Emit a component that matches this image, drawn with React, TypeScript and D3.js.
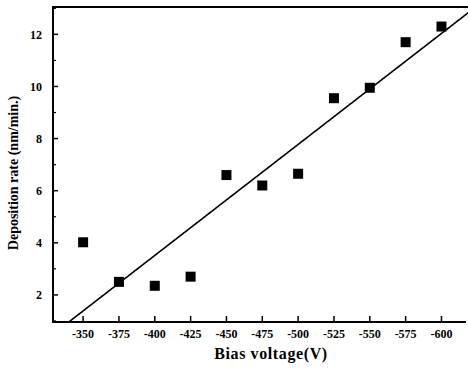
import React from "react";
import * as d3 from "d3";

// bias voltage (V) and measured deposition rate (nm/min.)
const biasVoltage = [-350, -375, -400, -425, -450, -475, -500, -525, -550, -575, -600];
const depositionRate = [4.02, 2.5, 2.35, 2.7, 6.6, 6.2, 6.65, 9.55, 9.95, 11.7, 12.3];

// linear fit: rate = fitIntercept + fitSlope * |V|
const fitIntercept = -13.525;
const fitSlope = 0.0426;

const xTicks = [-350, -375, -400, -425, -450, -475, -500, -525, -550, -575, -600];
const yMajor = [2, 4, 6, 8, 10, 12];
const yMinor = [1, 3, 5, 7, 9, 11, 13];

const width = 468;
const height = 370;
const font = "'Liberation Serif', 'DejaVu Serif', serif";

const App = () => {
  const left = 53;
  const top = 7;
  const bottom = 322;
  const right = 470;

  const x = d3.scaleLinear().domain([-329, -619.9]).range([left, right]);
  const y = d3.scaleLinear().domain([0.96, 13.05]).range([bottom, top]);

  const fitX = d3.range(-329, -621, -1);
  const fitLine = d3
    .line<number>()
    .x((v) => x(v))
    .y((v) => y(fitIntercept + fitSlope * Math.abs(v)));

  const size = 10;

  return (
    <svg
      width={width}
      height={height}
      style={{ position: "absolute", left: 0, top: 0, background: "#fff" }}
    >
      <defs>
        <clipPath id="plot">
          <rect x={left} y={top} width={right - left} height={bottom - top} />
        </clipPath>
      </defs>

      {/* fit line */}
      <path
        d={fitLine(fitX) || ""}
        fill="none"
        stroke="#000"
        strokeWidth={1.6}
        clipPath="url(#plot)"
      />

      {/* data squares */}
      {biasVoltage.map((v, i) => (
        <rect
          key={v}
          x={x(v) - size / 2}
          y={y(depositionRate[i]) - size / 2}
          width={size}
          height={size}
          fill="#000"
        />
      ))}

      {/* frame */}
      <line x1={left} x2={left} y1={top - 1} y2={bottom + 1} stroke="#000" strokeWidth={2} />
      <line x1={left - 1} x2={466} y1={bottom} y2={bottom} stroke="#000" strokeWidth={2} />
      <line x1={left - 1} x2={468} y1={top} y2={top} stroke="#000" strokeWidth={2} />

      {/* y ticks */}
      {yMajor.map((t) => (
        <g key={t}>
          <line x1={left} x2={left + 5} y1={y(t)} y2={y(t)} stroke="#000" strokeWidth={1.5} />
          <text
            x={left - 11}
            y={y(t)}
            dy="0.35em"
            textAnchor="end"
            fontFamily={font}
            fontWeight="bold"
            fontSize={12}
          >
            {t}
          </text>
        </g>
      ))}
      {yMinor.map((t) => (
        <line key={t} x1={left} x2={left + 3} y1={y(t)} y2={y(t)} stroke="#000" strokeWidth={1.2} />
      ))}

      {/* x ticks */}
      {xTicks.map((t) => (
        <g key={t}>
          <line x1={x(t)} x2={x(t)} y1={bottom} y2={bottom - 6} stroke="#000" strokeWidth={1.5} />
          <text
            x={x(t)}
            y={bottom + 16}
            textAnchor="middle"
            fontFamily={font}
            fontWeight="bold"
            fontSize={12}
          >
            {t}
          </text>
        </g>
      ))}

      <text
        x={271}
        y={359}
        textAnchor="middle"
        fontFamily={font}
        fontWeight="bold"
        fontSize={16}
        letterSpacing={0.6}
      >
        Bias voltage(V)
      </text>
      <text
        transform="translate(18,173) rotate(-90)"
        textAnchor="middle"
        fontFamily={font}
        fontWeight="bold"
        fontSize={14}
      >
        Deposition rate (nm/min.)
      </text>
    </svg>
  );
};

export default App;
